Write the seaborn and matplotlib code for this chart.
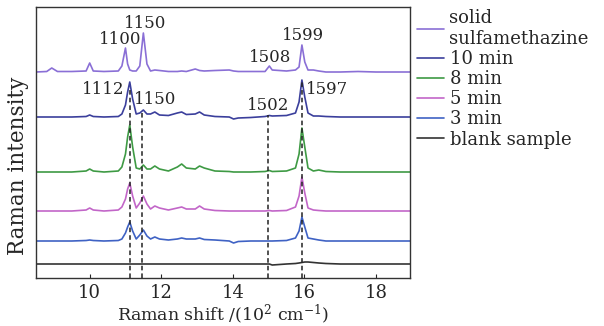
"""
Espectros Raman apilados (sulfametazina) - recreación con seaborn
"""

import matplotlib
matplotlib.use('Agg')
import matplotlib.pyplot as plt
import seaborn as sns
import numpy as np
import pandas as pd

# Desplazamiento Raman (10^2 cm^-1), malla común para todas las curvas
shift = [8.50, 8.80, 8.94, 9.10, 9.50, 9.90, 10.00, 10.10, 10.40, 10.80,
         10.90, 11.00, 11.06, 11.12, 11.20, 11.30, 11.40, 11.50, 11.60, 11.70,
         11.82, 11.95, 12.20, 12.45, 12.57, 12.70, 12.95, 13.07, 13.20, 13.50,
         13.90, 14.02, 14.15, 14.50, 14.90, 15.02, 15.10, 15.50, 15.75, 15.85,
         15.93, 16.01, 16.10, 16.25, 16.40, 16.60, 17.00, 17.50, 18.00, 18.50,
         18.95]

# Intensidades (unidades arbitrarias, sobre la línea base de cada curva)
solid = [0, 0.5, 4, 0.5, 0.5, 1, 9, 1, 0.5, 1,
         6, 24, 8, 2, 1, 1, 6, 39, 8, 1,
         2, 1.5, 0.5, 0.5, 1, 0.5, 3, 1.5, 1, 1.5,
         2, 1, 0.5, 0.5, 0.5, 6, 2, 1, 2, 5,
         27, 10, 2, 2, 1, 0, 0, 0.5, 0, 0,
         0]
min10 = [0, 0, 0, 0, 0, 0.5, 2, 0.5, 0, 0.5,
         3, 12, 25, 35, 18, 3, 4, 7, 3, 3,
         5, 2, 1.5, 4, 5, 2.5, 3, 5, 2, 0.5,
         0, -2, -1, -0.5, 0.5, 1.5, 1, 1.5, 4, 15,
         37, 20, 4, 1, 1, 0.5, 0, 0, 0, 0,
         0]
min8 = [0, 0, 0, 0, 0, 1, 3, 1, 0, 1,
        5, 18, 35, 47, 25, 4, 3, 7, 3, 3,
        6, 3, 1, 5, 8, 4, 3, 6, 4, 1,
        0.5, 0, 0, 0, 0.5, 1.5, 0.5, 1, 4, 18,
        44, 25, 4, 1, 2, 0.5, 0, 0, 0, 0,
        0]
min5 = [0, 0, 0, 0, 0, 1, 3, 1, 0, 1,
        4, 12, 22, 28, 15, 3, 8, 15, 7, 2,
        5, 3, 1, 3, 4, 2, 2, 5, 2, 0.5,
        0, 0, 0, 0, 0, 0.5, 0, 0.5, 4, 15,
        34, 18, 3, 1, 0.5, 0, 0, 0, 0, 0,
        0]
min3 = [0, 0, 0, 0, 0, 0.5, 1, 0.5, 0, 0.5,
        2, 8, 14, 19, 10, 2, 6, 11, 5, 2,
        4, 2, 1, 2, 3, 2, 2, 3, 1.5, 1,
        0, -2, -0.5, 0, 0, 0, 0, 0.5, 3, 10,
        24, 14, 3, 2, 1, 0, 0, 0, 0, 0,
        0]
blank = [0, 0, 0, 0, 0, 0, 0, 0, 0, 0,
         0, 0, 0, 0, 0, 0, 0, 0, 0, 0,
         0, 0, 0, 0, 0, 0, 0, 0, 0, 0,
         0, 0, 0, 0, 0, 0, -1, 0, 0.5, 1,
         1.5, 2, 2, 1.5, 1, 0.5, 0, 0, 0, 0,
         0]

labels = ['solid\nsulfamethazine', '10 min', '8 min', '5 min', '3 min', 'blank sample']
offsets = [206, 161, 106, 67, 37, 14]
colors = ['#8a6fd6', '#3b3f9c', '#3e9a44', '#c266c8', '#3f62c4', '#333333']

# Posiciones de las líneas discontinuas y etiquetas de picos
dash_x = [11.12, 11.47, 14.98, 15.93]
dash_top = [191, 168, 163, 198]
peak_text = ['1150', '1100', '1508', '1599', '1112', '1150', '1502', '1597']
peak_x = [11.54, 10.84, 15.03, 15.95, 10.37, 11.84, 14.98, 16.62]
peak_y = [255, 238, 220, 243, 188, 178, 173, 189]

sns.set_style('ticks')
plt.rcParams['font.family'] = ['DejaVu Serif']
plt.rcParams['mathtext.fontset'] = 'dejavuserif'
plt.rcParams['font.size'] = 12.5

series = [solid, min10, min8, min5, min3, blank]
frames = []
for lab, vals, off in zip(labels, series, offsets):
    frames.append(pd.DataFrame({'shift': shift,
                                'intensity': np.array(vals) + off,
                                'sample': lab}))
df = pd.concat(frames, ignore_index=True)

fig = plt.figure(figsize=(6.04, 3.26), dpi=100)
ax = fig.add_axes([36 / 604, 48 / 326, 374 / 604, 271 / 326])

sns.lineplot(data=df, x='shift', y='intensity', hue='sample',
             palette=dict(zip(labels, colors)), hue_order=labels,
             linewidth=1.2, ax=ax, legend=False, sort=False)

ax.vlines(dash_x, 0, dash_top, colors='#222222', linestyles=(0, (3, 2)),
          linewidth=1.1, zorder=3)

for t, x, y in zip(peak_text, peak_x, peak_y):
    ax.text(x, y, t, ha='center', va='center', fontsize=12)

ax.set_xlim(8.5, 18.95)
ax.set_ylim(0, 271)
ax.set_xticks([10, 12, 14, 16, 18])
ax.set_yticks([])
ax.tick_params(axis='x', direction='in', length=3, labelsize=13, pad=4)
for s in ax.spines.values():
    s.set_linewidth(1.0)
    s.set_color('#333333')

ax.set_xlabel(r'Raman shift /(10$^2$ cm$^{-1}$)', fontsize=12.5, labelpad=1)
ax.set_ylabel('Raman intensity', fontsize=15.5)
ax.yaxis.set_label_coords(-0.018, 0.413)

handles = [plt.Line2D([], [], color=c, linewidth=1.2) for c in colors]
fig.legend(handles, labels, loc='upper left', bbox_to_anchor=(417 / 604, 1 - 9 / 326),
           frameon=False, fontsize=13, handlelength=1.5, handletextpad=0.3,
           labelspacing=0.12, borderpad=0, borderaxespad=0)

fig.savefig('out.png', dpi=100)
